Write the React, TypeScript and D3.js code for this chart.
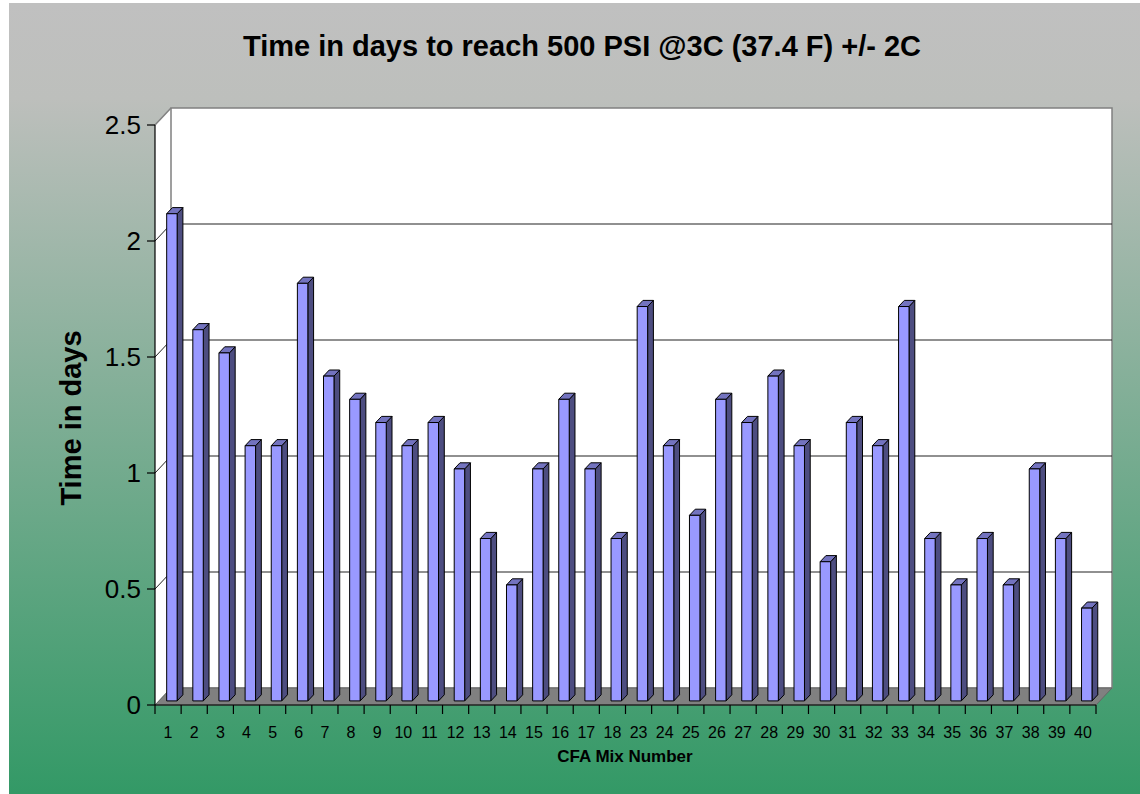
import React from "react";
import * as d3 from "d3";

const categories = ["1","2","3","4","5","6","7","8","9","10","11","12","13","14","15","16","17","18","23","24","25","26","27","28","29","30","31","32","33","34","35","36","37","38","39","40"];
const values = [2.1,1.6,1.5,1.1,1.1,1.8,1.4,1.3,1.2,1.1,1.2,1.0,0.7,0.5,1.0,1.3,1.0,0.7,1.7,1.1,0.8,1.3,1.2,1.4,1.1,0.6,1.2,1.1,1.7,0.7,0.5,0.7,0.5,1.0,0.7,0.4];
const yTicks = [0, 0.5, 1, 1.5, 2, 2.5];
const yTickLabels = ["0", "0.5", "1", "1.5", "2", "2.5"];
const title = "Time in days to reach 500 PSI @3C (37.4 F) +/- 2C";
const xTitle = "CFA Mix Number";
const yTitle = "Time in days";

const W = 1140, H = 794;
const FONT = "'Liberation Sans', Arial, Helvetica, sans-serif";
const DX = 16, DY = -17;
const F0 = 0.24, F1 = 0.6;

export default function App() {
  const y = d3.scaleLinear().domain([0, 2.5]).range([705, 125]);
  const x = d3.scaleBand().domain(categories).range([155, 1096]).paddingInner(0).paddingOuter(0);
  const band = x.bandwidth();
  const bw = band / 2.5;
  const x0 = 155, x1 = 1096;
  const yTop = y(2.5), yBot = y(0);
  const ddx = DX * (F1 - F0), ddy = DY * (F1 - F0);

  const pts = (a: number[][]) => a.map(p => p.join(",")).join(" ");

  return (
    <svg width={W} height={H} style={{ position: "absolute", left: 0, top: 0, background: "#fff" }}>
      <defs>
        <linearGradient id="bg" x1="0" y1="0" x2="0" y2="1">
          <stop offset="0" stopColor="#c0c0c0" />
          <stop offset="0.12" stopColor="#bdbfbc" />
          <stop offset="1" stopColor="#339966" />
        </linearGradient>
      </defs>
      <rect x={9} y={3} width={W - 9} height={H - 3} fill="url(#bg)" />

      {/* side wall */}
      <polygon points={pts([[x0, yTop], [x0 + DX, yTop + DY], [x0 + DX, yBot + DY], [x0, yBot]])} fill="#fff" />
      {/* back wall */}
      <rect x={x0 + DX} y={yTop + DY} width={x1 - x0} height={yBot - yTop} fill="#fff" stroke="#808080" strokeWidth={1.5} />
      {/* side wall top edge */}
      <line x1={x0} y1={yTop} x2={x0 + DX} y2={yTop + DY} stroke="#808080" strokeWidth={1.5} />

      {/* gridlines */}
      {yTicks.filter(v => v > 0 && v < 2.5).map(v => (
        <g key={v}>
          <line x1={x0 + DX} x2={x1 + DX} y1={y(v) + DY} y2={y(v) + DY} stroke="#222" strokeWidth={1.2} />
          <line x1={x0} x2={x0 + DX} y1={y(v)} y2={y(v) + DY} stroke="#222" strokeWidth={1} />
        </g>
      ))}

      {/* floor */}
      <polygon points={pts([[x0, yBot], [x0 + DX, yBot + DY], [x1 + DX, yBot + DY], [x1, yBot]])} fill="#808080" stroke="#666" strokeWidth={1} />

      {/* bars */}
      {categories.map((c, i) => {
        const v = values[i];
        const bx = (x(c) as number) + (band - bw) / 2 + DX * F0;
        const ty = y(v) + DY * F0;
        const by = y(0) + DY * F0;
        return (
          <g key={c} stroke="#000" strokeWidth={1} strokeLinejoin="round">
            <polygon points={pts([[bx + bw, ty], [bx + bw + ddx, ty + ddy], [bx + bw + ddx, by + ddy], [bx + bw, by]])} fill="#4d4d80" />
            <polygon points={pts([[bx, ty], [bx + ddx, ty + ddy], [bx + bw + ddx, ty + ddy], [bx + bw, ty]])} fill="#7373bf" />
            <rect x={bx} y={ty} width={bw} height={by - ty} fill="#9999ff" />
          </g>
        );
      })}

      {/* axes */}
      <line x1={x0} x2={x0} y1={yTop} y2={yBot} stroke="#000" strokeWidth={1.2} />
      <line x1={x0} x2={x1} y1={yBot} y2={yBot} stroke="#000" strokeWidth={1.2} />
      {yTicks.map((v, i) => (
        <g key={v}>
          <line x1={x0 - 8} x2={x0} y1={y(v)} y2={y(v)} stroke="#000" strokeWidth={1.2} />
          <text x={141} y={y(v) + 9} textAnchor="end" fontFamily={FONT} fontSize={26} fill="#000">{yTickLabels[i]}</text>
        </g>
      ))}
      {[...categories.map(c => x(c) as number), x1].map((t, i) => (
        <line key={i} x1={t} x2={t} y1={yBot} y2={yBot + 9} stroke="#000" strokeWidth={1.2} />
      ))}
      {categories.map(c => (
        <text key={c} x={(x(c) as number) + band / 2} y={737.5} textAnchor="middle" fontFamily={FONT} fontSize={16} fill="#000">{c}</text>
      ))}

      <text x={625} y={762} textAnchor="middle" fontFamily={FONT} fontSize={17} fontWeight="bold" fill="#000">{xTitle}</text>
      <text transform="translate(81,418) rotate(-90)" textAnchor="middle" fontFamily={FONT} fontSize={29} fontWeight="bold" fill="#000">{yTitle}</text>
      <text x={582} y={56} textAnchor="middle" fontFamily={FONT} fontSize={29} fontWeight="bold" fill="#000">{title}</text>
    </svg>
  );
}
